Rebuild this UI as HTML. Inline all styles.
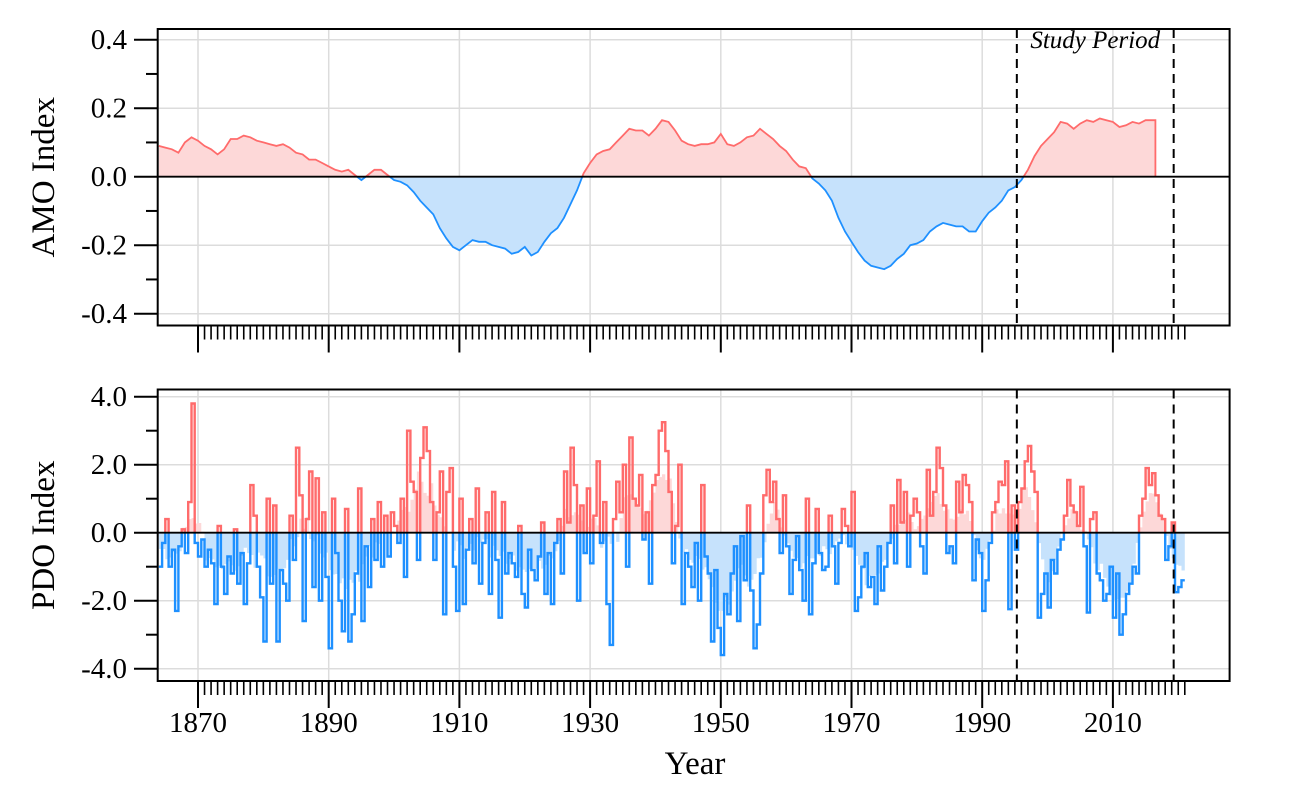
<!DOCTYPE html>
<html><head><meta charset="utf-8">
<style>
html,body{margin:0;padding:0;background:#fff;}
svg{display:block;font-family:"Liberation Serif",serif;}
</style></head>
<body>
<svg id="chart" width="1300" height="800" viewBox="0 0 1300 800" xmlns="http://www.w3.org/2000/svg"></svg>
<script>
// ---- data ----
const amoYears = [];
for (let y = 1864; y <= 2016; y++) amoYears.push(y);
const amoValues = [0.09,0.085,0.08,0.07,0.10,0.115,0.105,0.09,0.08,0.065,0.08,0.11,0.11,0.12,0.115,0.105,0.10,0.095,0.09,0.095,0.085,0.07,0.065,0.05,0.05,0.04,0.03,0.02,0.015,0.02,0.005,-0.01,0.005,0.02,0.02,0.005,-0.01,-0.015,-0.025,-0.045,-0.07,-0.09,-0.11,-0.15,-0.18,-0.205,-0.215,-0.2,-0.185,-0.19,-0.19,-0.2,-0.205,-0.21,-0.225,-0.22,-0.205,-0.23,-0.22,-0.19,-0.165,-0.15,-0.12,-0.08,-0.04,0.01,0.04,0.065,0.075,0.08,0.1,0.12,0.14,0.135,0.135,0.12,0.14,0.165,0.16,0.135,0.105,0.095,0.09,0.095,0.095,0.1,0.125,0.095,0.09,0.1,0.115,0.12,0.14,0.125,0.11,0.09,0.075,0.05,0.03,0.025,-0.005,-0.02,-0.04,-0.07,-0.12,-0.16,-0.19,-0.22,-0.245,-0.26,-0.265,-0.27,-0.26,-0.24,-0.225,-0.2,-0.195,-0.185,-0.16,-0.145,-0.135,-0.14,-0.145,-0.145,-0.16,-0.16,-0.13,-0.105,-0.09,-0.07,-0.04,-0.03,-0.01,0.02,0.06,0.09,0.11,0.13,0.16,0.155,0.14,0.155,0.165,0.16,0.17,0.165,0.16,0.145,0.15,0.16,0.155,0.165,0.165];
const pdoStartYear = 1864;
const pdoValues = [
-1.0,-0.3, 0.4,-1.0, -0.5,-2.3, -0.4,0.1, -0.6,0.9, 3.8,-0.3,
-0.7,-0.2, -1.0,-0.5, -0.9,-2.1, 0.2,-1.0, -1.8,-0.7, -1.2,0.1, -1.5,-0.6, -2.1,-0.9, 1.4,0.5, -1.0,-1.9,
-3.2,1.0, -1.5,0.8, -3.2,-1.1, -1.5,-2.0, 0.5,-0.8, 2.5,1.1, -2.6,0.4, 1.8,-1.6, 1.6,-2.0, 0.6,-1.3,
-3.4,1.0, -0.6,-2.0, -2.9,0.7, -3.2,-2.4, -1.2,1.3, -2.6,-0.4, -1.6,0.4, -0.8,0.9, -1.0,0.5, -0.7,0.6,
0.2,-0.3, 1.0,-1.3, 3.0,1.5, 1.2,-0.8, 2.2,3.1, 2.4,0.9, -0.8,0.6, 1.8,-2.4, 1.2,1.9, -1.0,-2.3,
1.0,-2.1, -0.5,0.4, -0.9,1.3, -1.5,-0.3, 0.6,-1.8, 1.2,-0.8, -2.5,0.9, -1.2,-0.6, -0.9,-1.3, 0.2,-1.8,
-2.2,-0.5, -1.1,-1.4, -0.7,0.3, -1.8,-0.6, -2.1,-0.3, 0.4,-1.2, 1.8,0.3, 2.5,1.4, -2.0,0.8, -0.6,1.3,
-0.9,0.5, 2.1,-0.3, 0.9,-2.1, -3.3,0.4, 1.5,0.6, 2.0,-1.0, 2.8,1.0, 0.8,1.7, -0.2,0.6, -1.5,1.4,
1.7,3.0, 3.25,2.4, 1.2,-0.9, 0.2,2.0, -2.1,-0.6, -1.0,-1.6, -0.3,-2.0, 1.4,-0.7, -1.2,-3.2, -1.1,-2.8,
-3.6,-1.8, -2.4,-1.2, -0.4,-2.6, -0.1,-1.4, 0.8,-1.7, -3.4,-2.7, -1.2,1.1, 1.85,0.9, 1.5,0.4, -0.6,1.1,
-0.4,-1.8, -0.8,-0.1, -1.1,-2.0, 1.0,-2.4, -0.9,0.7, -0.6,-1.1, -1.0,0.5, -0.4,-1.5, -0.3,0.7, 0.2,-0.4,
1.2,-2.3, -1.9,-1.0, -0.6,-1.6, -1.3,-2.1, -0.4,-1.7, -1.0,-0.3, 0.8,-0.9, 1.55,0.3, 1.2,-1.0, 0.5,1.0,
0.6,-0.4, -1.2,1.85, 0.5,1.2, 2.5,1.9, 0.8,-0.6, -0.4,-0.9, 1.5,0.6, 1.7,1.4, 0.9,-1.4, -0.2,-0.6,
-2.3,-1.4, -0.3,0.6, 0.9,1.5, 1.4,2.1, -2.25,0.8, -0.5,0.9, 1.3,2.1, 2.55,1.8, 1.2,-2.5, -1.8,-1.2,
-2.2,-0.8, -1.2,-0.5, -0.2,0.5, 1.55,0.8, 0.6,0.2, 1.35,-0.4, -2.35,0.4, 0.6,-1.2, -1.4,-2.0, -1.8,-1.0,
-2.5,-1.2, -3.0,-2.4, -1.8,-1.5, -1.0,-1.2, 0.5,1.0, 1.9,1.4, 1.75,1.1, 0.5,0.4, -0.8,-0.4, 0.3,-1.75,
-1.6,-1.4];
const amoTicks = [-0.4,-0.2,0.0,0.2,0.4];
const amoTickLabels = ["-0.4","-0.2","0.0","0.2","0.4"];
const pdoTicks = [-4,-2,0,2,4];
const pdoTickLabels = ["-4.0","-2.0","0.0","2.0","4.0"];
const xTicks = [1870,1890,1910,1930,1950,1970,1990,2010];
const studyPeriod = [1995.3, 2019.3];

// ---- scales ----
const L = 157.7, R = 1229.6;
const x = yr => 198 + (yr - 1870) * 6.535;
const yA = v => 176.7 - v * 342.5;
const yP = v => 532.7 - v * 34;
const NS = "http://www.w3.org/2000/svg";
const svg = document.getElementById('chart');
function mk(tag, attrs, parent) {
  const e = document.createElementNS(NS, tag);
  for (const k in attrs) e.setAttribute(k, attrs[k]);
  (parent || svg).appendChild(e);
  return e;
}
const RED = "#ff6b6b", BLUE = "#1e90ff", PINK = "#fdd8d8", LBLUE = "#c6e2fc";

const panels = [
  {name:'amo', top:29, bot:325.5, y:yA, ticks:amoTicks, labels:amoTickLabels, minor:[-0.3,-0.1,0.1,0.3], title:'AMO Index'},
  {name:'pdo', top:389.5, bot:681, y:yP, ticks:pdoTicks, labels:pdoTickLabels, minor:[-3,-1,1,3], title:'PDO Index'}
];

const defs = mk('defs', {});
panels.forEach(p => {
  const z = p.y(0);
  const c1 = mk('clipPath', {id: p.name + '-above'}, defs);
  mk('rect', {x:L, y:p.top, width:R-L, height:z-p.top}, c1);
  const c2 = mk('clipPath', {id: p.name + '-below'}, defs);
  mk('rect', {x:L, y:z, width:R-L, height:p.bot-z}, c2);
});

panels.forEach(p => {
  const g = mk('g', {});
  
  
  xTicks.forEach(t => {
    const l = mk('line', {x1:x(t), x2:x(t), y1:p.top, y2:p.bot, stroke:'#dcdcdc', 'stroke-width':1.5}, g);
    
    
  });
  p.ticks.forEach(t => {
    const l = mk('line', {x1:L, x2:R, y1:p.y(t), y2:p.y(t), stroke:'#dcdcdc', 'stroke-width':1.5}, g);
    
    
  });
});

// AMO series
(function(){
  const z = yA(0);
  let line = '';
  amoYears.forEach((yr, i) => { line += (i ? 'L' : 'M') + x(yr).toFixed(1) + ',' + yA(amoValues[i]).toFixed(1); });
  const lastX = x(amoYears[amoYears.length-1] + 0.5);
  line += 'L' + lastX.toFixed(1) + ',' + yA(amoValues[amoValues.length-1]).toFixed(1);
  const area = line + 'L' + lastX.toFixed(1) + ',' + z + 'L' + x(amoYears[0]).toFixed(1) + ',' + z + 'Z';
  const a1 = mk('path', {d:area, fill:PINK, 'clip-path':'url(#amo-above)'});
  
  
  const a2 = mk('path', {d:area, fill:LBLUE, 'clip-path':'url(#amo-below)'});
  
  
  const l1 = mk('path', {d:line + 'L' + lastX.toFixed(1) + ',' + z, fill:'none', stroke:RED, 'stroke-width':1.8, 'clip-path':'url(#amo-above)'});
  
  
  const l2 = mk('path', {d:line, fill:'none', stroke:BLUE, 'stroke-width':1.8, 'clip-path':'url(#amo-below)'});
  
  
})();

// PDO series
(function(){
  const z = yP(0);
  const n = pdoValues.length;
  const t = i => pdoStartYear + i * 0.5;
  const sm = pdoValues.map((v, i) => {
    let s = 0, c = 0;
    for (let k = -3; k <= 3; k++) { const j = i + k; if (j >= 0 && j < n) { s += pdoValues[j]; c++; } }
    return s / c;
  });
  let sp = 'M' + x(t(0)).toFixed(1) + ',' + z;
  sm.forEach((v, i) => { sp += 'L' + x(t(i)).toFixed(1) + ',' + yP(v).toFixed(1) + 'L' + x(t(i+1)).toFixed(1) + ',' + yP(v).toFixed(1); });
  sp += 'L' + x(t(n)).toFixed(1) + ',' + z + 'Z';
  const a1 = mk('path', {d:sp, fill:PINK, 'clip-path':'url(#pdo-above)'});
  
  
  const a2 = mk('path', {d:sp, fill:LBLUE, 'clip-path':'url(#pdo-below)'});
  
  
  let lp = '';
  pdoValues.forEach((v, i) => {
    lp += (i ? 'L' : 'M') + x(t(i)).toFixed(1) + ',' + yP(v).toFixed(1) + 'L' + x(t(i+1)).toFixed(1) + ',' + yP(v).toFixed(1);
  });
  const l1 = mk('path', {d:lp, fill:'none', stroke:RED, 'stroke-width':2.4, 'clip-path':'url(#pdo-above)'});
  
  
  const l2 = mk('path', {d:lp, fill:'none', stroke:BLUE, 'stroke-width':2.4, 'clip-path':'url(#pdo-below)'});
  
  
})();

panels.forEach(p => {
  const zl = mk('line', {x1:L, x2:R, y1:p.y(0), y2:p.y(0), stroke:'#000', 'stroke-width':1.8});
  
  
  studyPeriod.forEach(s => {
    const d = mk('line', {x1:x(s), x2:x(s), y1:p.top, y2:p.bot, stroke:'#000', 'stroke-width':2, 'stroke-dasharray':'9,6'});
    
    
  });
  const fr = mk('rect', {x:L, y:p.top, width:R-L, height:p.bot-p.top, fill:'none', stroke:'#000', 'stroke-width':2});
  
  
  p.ticks.forEach((tv, i) => {
    const tk = mk('line', {x1:134, x2:L, y1:p.y(tv), y2:p.y(tv), stroke:'#000', 'stroke-width':2});
    
    
    const lb = mk('text', {x:127, y:p.y(tv) + 9.5, 'text-anchor':'end', 'font-size':29});
    lb.textContent = p.labels[i];
    
    
  });
  p.minor.forEach(tv => {
    const tk = mk('line', {x1:146, x2:L, y1:p.y(tv), y2:p.y(tv), stroke:'#000', 'stroke-width':2});
    
    
  });
  for (let yr = 1870; yr <= 2021; yr++) {
    const major = xTicks.includes(yr);
    const tk = mk('line', {x1:x(yr), x2:x(yr), y1:p.bot, y2:p.bot + (major ? 27 : 14), stroke:'#000', 'stroke-width':major ? 2 : 1.6});
    
    
  }
  const tt = mk('text', {x:0, y:0, 'text-anchor':'middle', 'font-size':33, transform:'translate(54,' + ((p.top + p.bot)/2) + ') rotate(-90)'});
  tt.textContent = p.title;
  
  
});

xTicks.forEach(t => {
  const lb = mk('text', {x:x(t), y:732, 'text-anchor':'middle', 'font-size':29});
  lb.textContent = String(t);
  
  
});
const xt = mk('text', {x:695, y:774, 'text-anchor':'middle', 'font-size':33});
xt.textContent = 'Year';


const sp = mk('text', {x:(x(studyPeriod[0]) + x(studyPeriod[1]))/2, y:48, 'text-anchor':'middle', 'font-size':25, 'font-style':'italic'});
sp.textContent = 'Study Period';


</script>
</body></html>
